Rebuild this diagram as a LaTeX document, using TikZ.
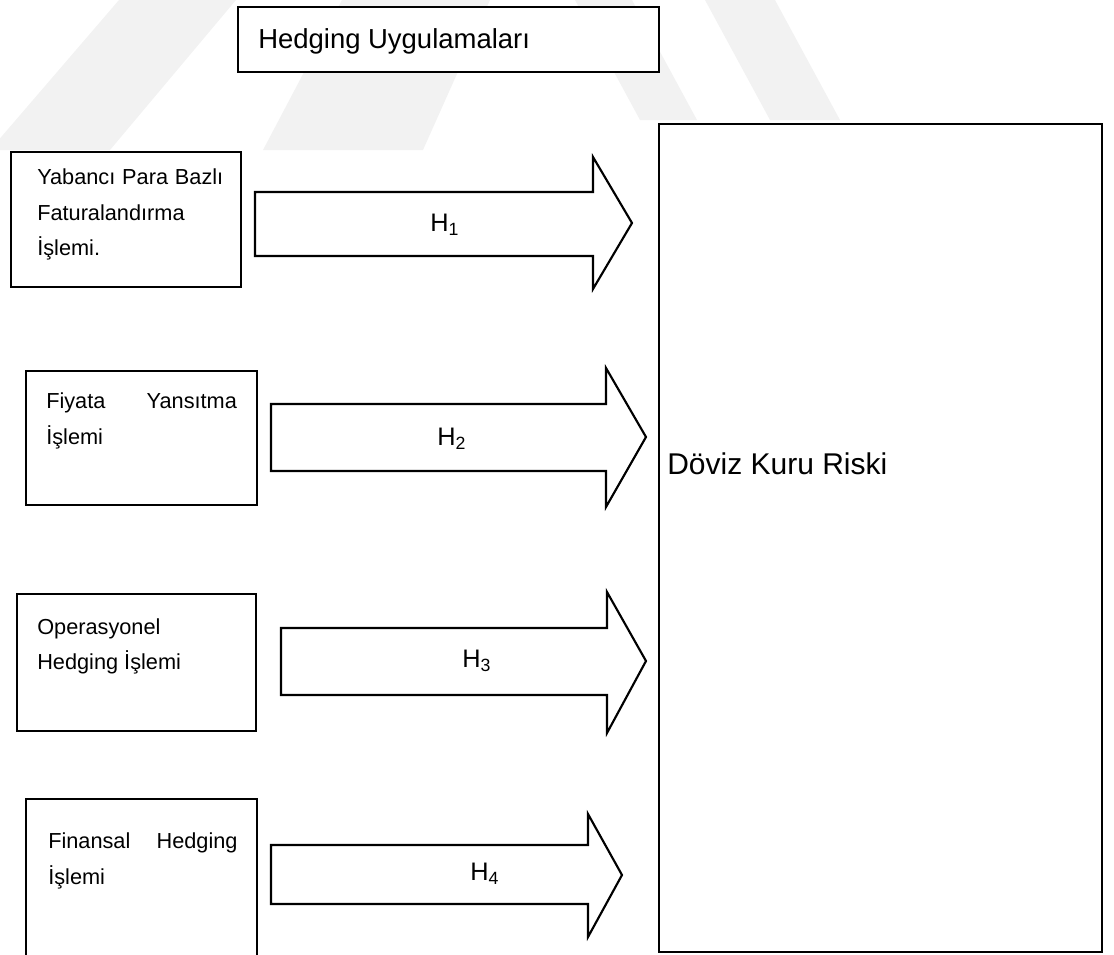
\documentclass[tikz,border=0pt]{standalone}
\usepackage{fontspec}
\setmainfont{Liberation Sans}
\definecolor{wm}{RGB}{242,242,242}
\begin{document}
\begin{tikzpicture}[x=0.75pt,y=-0.75pt,
  box/.style={draw=black, line width=1.6pt, fill=white},
  blockarrow/.style={draw=black, line width=1.6pt, fill=white, line join=miter},
  small/.style={font=\fontsize{16.3}{19}\selectfont, inner sep=0pt, anchor=base west},
  big/.style={font=\fontsize{20.6}{24}\selectfont, inner sep=0pt, anchor=base west},
  bigger/.style={font=\fontsize{22.5}{26}\selectfont, inner sep=0pt, anchor=base west},
  hlab/.style={font=\fontsize{19}{22}\selectfont, inner sep=0pt, anchor=west}]
\useasboundingbox (0,0) rectangle (1114,954);
\clip (0,0) rectangle (1114,954);
% watermark
\fill[wm] (119,0) -- (236,0) -- (110,150) -- (-10,150) -- cycle;
\fill[wm] (342,0) -- (490,0) -- (423,150) -- (263,150) -- cycle;
\fill[wm] (575,0) -- (632,0) -- (697,120) -- (640,120) -- cycle;
\fill[wm] (705,0) -- (775,0) -- (840,120) -- (770,120) -- cycle;
% title
\draw[box] (238,7) rectangle (659,72);
\node[big] (title) at (258,48) {Hedging Uygulamaları};
% big box
\draw[box] (659,124) rectangle (1102,952);
\node[bigger] (risk) at (667,474) {Döviz Kuru Riski};
% box 1
\draw[box] (11,152) rectangle (241,287);
\node[small] (b1l1) at (37,184) {\makebox[139.5pt][s]{Yabancı Para Bazlı}};
\node[small] (b1l2) at (37,220) {Faturalandırma};
\node[small] (b1l3) at (37,255) {İşlemi.};
% box 2
\draw[box] (26,371) rectangle (257,505);
\node[small] (b2l1) at (46,408) {\makebox[143pt][s]{Fiyata Yansıtma}};
\node[small] (b2l2) at (46,444) {İşlemi};
% box 3
\draw[box] (17,594) rectangle (256,731);
\node[small] (b3l1) at (37,634) {Operasyonel};
\node[small] (b3l2) at (37,669) {Hedging İşlemi};
% box 4
\draw[box] (26,799) rectangle (257,970);
\node[small] (b4l1) at (48,848) {\makebox[142pt][s]{Finansal Hedging}};
\node[small] (b4l2) at (48,884) {İşlemi};
% arrows
\draw[blockarrow] (255,192) -- (593,192) -- (593,157) -- (632,223) -- (593,289) -- (593,256) -- (255,256) -- cycle;
\node[hlab] (h1) at (430,225) {H\textsubscript{1}};
\draw[blockarrow] (271,404) -- (606,404) -- (606,368) -- (646,437) -- (606,507) -- (606,471) -- (271,471) -- cycle;
\node[hlab] (h2) at (437,439) {H\textsubscript{2}};
\draw[blockarrow] (281,628) -- (607,628) -- (607,592) -- (646,661) -- (607,733) -- (607,695) -- (281,695) -- cycle;
\node[hlab] (h3) at (462,661) {H\textsubscript{3}};
\draw[blockarrow] (271,845) -- (588,845) -- (588,814) -- (622,875) -- (588,937) -- (588,904) -- (271,904) -- cycle;
\node[hlab] (h4) at (470,874) {H\textsubscript{4}};
\end{tikzpicture}
\end{document}
